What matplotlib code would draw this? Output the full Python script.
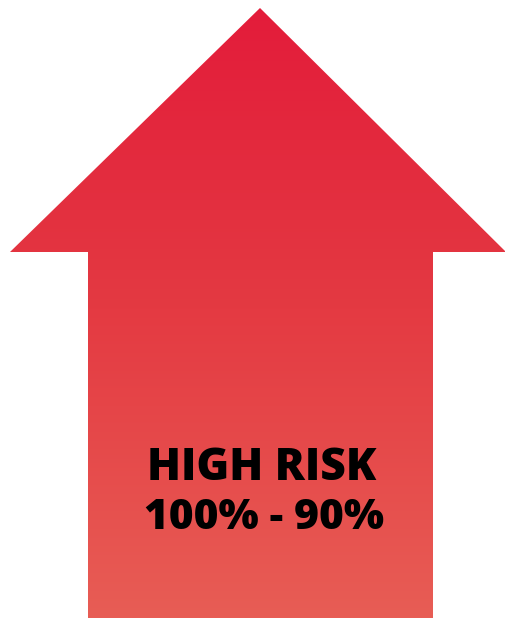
import numpy as np
import matplotlib
matplotlib.use("Agg")
import matplotlib.pyplot as plt
from matplotlib.patches import Polygon
from matplotlib.colors import LinearSegmentedColormap

# Data / labels
risk_label = "HIGH RISK"
risk_range = ["100%", "90%"]
gradient_colors = ["#E31B3A", "#E43A42", "#E85D55"]

W, H = 506, 618
fig = plt.figure(figsize=(W / 100, H / 100), dpi=100)
ax = fig.add_axes([0, 0, 1, 1])
ax.set_xlim(0, W)
ax.set_ylim(H, 0)
ax.axis("off")

# arrow outline (pixel coordinates of the shape)
tip_x, tip_y = 260, 8
head_y = 252
head_l, head_r = 10, 506
shaft_l, shaft_r = 88, 433
verts = [(tip_x, tip_y), (head_r, head_y), (shaft_r, head_y), (shaft_r, H),
         (shaft_l, H), (shaft_l, head_y), (head_l, head_y)]
poly = Polygon(verts, closed=True, facecolor="none", edgecolor="none")
ax.add_patch(poly)

cmap = LinearSegmentedColormap.from_list("g", gradient_colors)
grad = np.linspace(0, 1, 256).reshape(-1, 1)
im = ax.imshow(grad, cmap=cmap, aspect="auto", extent=[0, W, H, 0], zorder=1)
im.set_clip_path(poly)

font = ["Open Sans", "DejaVu Sans"]
ax.text(262, 468, risk_label, ha="center", va="center", fontsize=32,
        fontweight="heavy", family=font, color="black", zorder=3)
ax.text(264, 518, f"{risk_range[0]} - {risk_range[1]}", ha="center", va="center",
        fontsize=30.5, fontweight="heavy", family=font, color="black", zorder=3)

fig.savefig("out.png", dpi=100)
